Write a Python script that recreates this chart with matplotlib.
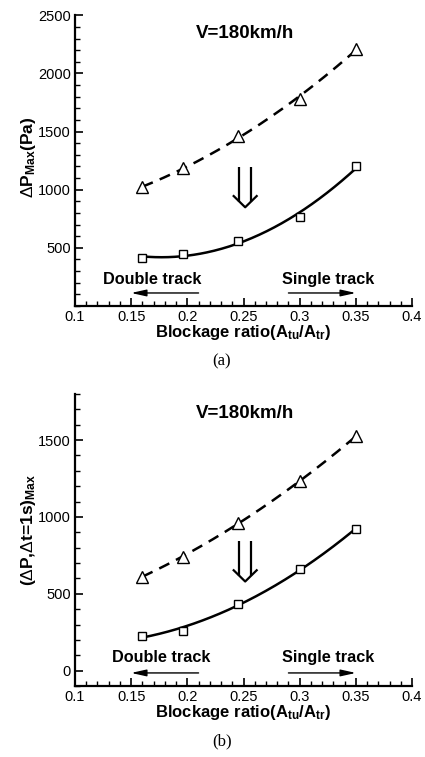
import numpy as np
import matplotlib
matplotlib.use("Agg")
import matplotlib.pyplot as plt
import matplotlib.transforms as mtransforms
from matplotlib.ticker import MultipleLocator, FixedLocator

plt.rcParams['font.family'] = ['Liberation Sans', 'DejaVu Sans']
plt.rcParams['mathtext.fontset'] = 'custom'
plt.rcParams['mathtext.rm'] = 'Liberation Sans'
plt.rcParams['mathtext.bf'] = 'Liberation Sans:bold'
plt.rcParams['mathtext.it'] = 'Liberation Sans:italic'

# Blockage ratio of the tested tunnels
blockage = [0.16, 0.196, 0.245, 0.30, 0.35]

# (a) maximum pressure amplitude, Pa
a_upper = [1020, 1185, 1460, 1780, 2210]   # triangles, dashed fit
a_lower = [410, 450, 555, 766, 1200]       # squares, solid fit

# (b) maximum pressure change within 1 s, Pa
b_upper = [612, 742, 958, 1232, 1525]
b_lower = [227, 260, 433, 660, 920]

speed_label = "V=180km/h"
xticks = [0.1, 0.15, 0.2, 0.25, 0.3, 0.35, 0.4]
xticklabels = ["0.1", "0.15", "0.2", "0.25", "0.3", "0.35", "0.4"]

W, H = 425, 757
fig = plt.figure(figsize=(W / 100, H / 100), dpi=100)

ax_a = fig.add_axes([75 / W, 1 - 306 / H, 337 / W, 290.7 / H])
ax_b = fig.add_axes([75 / W, 1 - 686 / H, 337 / W, 292 / H])


def style_axes(ax, ylim, yticks, yticklabels):
    ax.set_xlim(0.1, 0.4)
    ax.set_ylim(*ylim)
    for s in ('top', 'right'):
        ax.spines[s].set_visible(False)
    for s in ('left', 'bottom'):
        ax.spines[s].set_linewidth(1.6)
    ax.xaxis.set_major_locator(FixedLocator(xticks))
    ax.set_xticklabels(xticklabels)
    ax.xaxis.set_minor_locator(MultipleLocator(0.01))
    ax.yaxis.set_major_locator(FixedLocator(yticks))
    ax.set_yticklabels(yticklabels)
    ax.yaxis.set_minor_locator(MultipleLocator(100))
    ax.tick_params(which='major', direction='in', length=6, width=1.2,
                   labelsize=10.5, pad=3)
    ax.tick_params(which='minor', direction='in', length=3.5, width=1.0)
    ax.set_xlabel(r'Blockage ratio(A$_{\mathbf{tu}}$/A$_{\mathbf{tr}}$)',
                  fontsize=12, fontweight='bold')
    ax.xaxis.label.set_va('baseline')


def draw_series(ax, x, upper, lower):
    xs = np.linspace(min(x), max(x), 200)
    cu = np.polyfit(x, upper, 2)
    cl = np.polyfit(x, lower, 2)
    ax.plot(xs, np.polyval(cu, xs), color='black', lw=1.8,
            dashes=(4.5, 3.0))
    ax.plot(xs, np.polyval(cl, xs), color='black', lw=1.8)
    ax.plot(x, upper, linestyle='none', marker='^', ms=8,
            mfc='white', mec='black', mew=1.0)
    ax.plot(x, lower, linestyle='none', marker='s', ms=6,
            mfc='white', mec='black', mew=1.0)


def double_arrow(ax, x_tip, y_tip):
    # hollow "⇓" arrow, shape given in pixels relative to its tip
    tr = mtransforms.ScaledTranslation(x_tip, y_tip, ax.transData)
    shaft_dx, top = 5.8, 40.0
    wing_dx, wing_dy = 12.3, 12.0
    shaft_bot = wing_dy * shaft_dx / wing_dx
    kw = dict(color='black', lw=1.6, transform=tr, clip_on=False,
              solid_capstyle='butt')
    ax.plot([-shaft_dx, -shaft_dx], [top, shaft_bot], **kw)
    ax.plot([shaft_dx, shaft_dx], [top, shaft_bot], **kw)
    ax.plot([-wing_dx, 0, wing_dx], [wing_dy, 0, wing_dy], **kw)


def track_notes(ax, y_text, y_arrow, x_double):
    ax.text(x_double, y_text, "Double track", ha='center', va='baseline',
            fontsize=11.7, fontweight='bold')
    ax.text(0.325, y_text, "Single track", ha='center', va='baseline',
            fontsize=11.7, fontweight='bold')
    ap = dict(arrowstyle='-|>,head_length=0.9,head_width=0.2', lw=1.0,
              color='black', shrinkA=0, shrinkB=0)
    ax.annotate("", xy=(0.15, y_arrow), xytext=(0.21, y_arrow),
                arrowprops=ap, annotation_clip=False)
    ax.annotate("", xy=(0.35, y_arrow), xytext=(0.29, y_arrow),
                arrowprops=ap, annotation_clip=False)


# panel (a)
style_axes(ax_a, (0, 2500), [500, 1000, 1500, 2000, 2500],
           ["500", "1000", "1500", "2000", "2500"])
draw_series(ax_a, blockage, a_upper, a_lower)
ax_a.text(0.251, 2303, speed_label, ha='center', va='baseline',
          fontsize=13.5, fontweight='bold')
track_notes(ax_a, 189, 112, 0.169)
double_arrow(ax_a, 0.2515, 849)
ax_a.set_ylabel(r'$\Delta$P$_{\mathbf{Max}}$(Pa)', fontsize=12.5,
                fontweight='bold')
ax_a.yaxis.label.set_va('center')
ax_a.yaxis.set_label_coords(-0.139, 0.51)
ax_a.xaxis.set_label_coords(0.5, -0.106)

# panel (b)
style_axes(ax_b, (-100, 1800), [0, 500, 1000, 1500],
           ["0", "500", "1000", "1500"])
draw_series(ax_b, blockage, b_upper, b_lower)
ax_b.text(0.251, 1641, speed_label, ha='center', va='baseline',
          fontsize=13.5, fontweight='bold')
track_notes(ax_b, 56, -15, 0.177)
double_arrow(ax_b, 0.2515, 580)
ax_b.set_ylabel(r'($\Delta$P,$\Delta$t=1s)$_{\mathbf{Max}}$', fontsize=12.5,
                fontweight='bold')
ax_b.yaxis.label.set_va('center')
ax_b.yaxis.set_label_coords(-0.139, 0.534)
ax_b.xaxis.set_label_coords(0.5, -0.106)

fig.text(222 / W, 1 - 361 / H, "(a)", ha='center', va='center',
         fontsize=12, family='Liberation Serif')
fig.text(222 / W, 1 - 741 / H, "(b)", ha='center', va='center',
         fontsize=12, family='Liberation Serif')

fig.savefig("out.png", dpi=100)
